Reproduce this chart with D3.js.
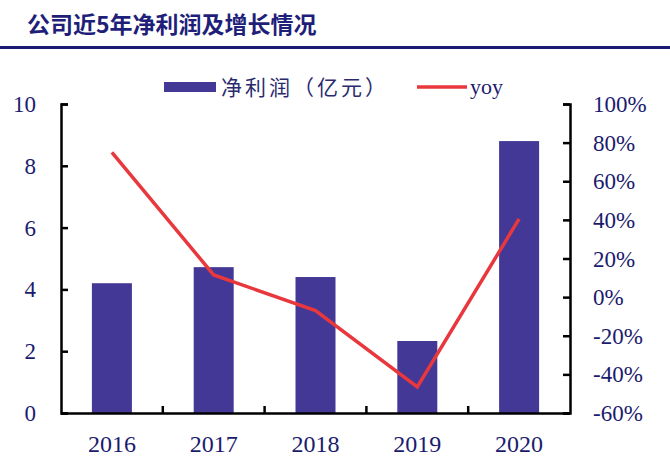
<!DOCTYPE html>
<html><head><meta charset="utf-8">
<script src="https://cdn.jsdelivr.net/npm/d3@7"></script>
<style>body{margin:0;background:#fff;}svg{display:block;}</style>
</head><body><svg id="c" width="670" height="464"></svg>
<script>
const years = ["2016","2017","2018","2019","2020"];
const netProfit = [4.2, 4.72, 4.4, 2.33, 8.8];
const yoy = [0.75, 0.115, -0.07, -0.465, 0.405];
const leftTicks = [0,2,4,6,8,10];
const rightTicks = [-0.6,-0.4,-0.2,0,0.2,0.4,0.6,0.8,1.0];

const svg = d3.select("#c");
const navy = "#1b1b6e", barColor = "#433896", red = "#e8383d";
const L = 61, R = 570, T = 104, B = 413;

svg.append("text").attr("x", 27).attr("y", 33).attr("fill", "#1f1f7a")
  .attr("font-family", "Noto Sans CJK SC").attr("font-weight", "bold").attr("font-size", 23)
  .text("公司近5年净利润及增长情况");
svg.append("rect").attr("x", 0).attr("y", 46).attr("width", 670).attr("height", 3).attr("fill", "#1b1b72");

const xb = d3.scaleBand().domain(years).range([L, R]);
const yL = d3.scaleLinear().domain([0, 10]).range([B, T]);
const yR = d3.scaleLinear().domain([-0.6, 1.0]).range([B, T]);

svg.selectAll("rect.bar").data(years).enter().append("rect").attr("class","bar")
  .attr("x", d => xb(d) + xb.bandwidth()/2 - 20).attr("width", 40)
  .attr("y", (d,i) => yL(netProfit[i])).attr("height", (d,i) => B - yL(netProfit[i]))
  .attr("fill", barColor);

const line = d3.line().x((d,i) => xb(years[i]) + xb.bandwidth()/2).y(d => yR(d));
svg.append("path").datum(yoy).attr("d", line).attr("fill","none").attr("stroke", red).attr("stroke-width", 3.5);

// axes
const gl = svg.append("g").attr("transform", `translate(${L},0)`)
  .call(d3.axisRight(yL).tickValues(leftTicks).tickSize(7).tickFormat(""));
const gr = svg.append("g").attr("transform", `translate(${R},0)`)
  .call(d3.axisLeft(yR).tickValues(rightTicks).tickSize(7).tickFormat(""));
const gx = svg.append("g").attr("transform", `translate(0,${B})`)
  .call(d3.axisTop(xb).tickValues([]).tickSizeOuter(0));
[gl, gr, gx].forEach(g => { g.selectAll("path,line").attr("stroke","#000").attr("stroke-width",2.5); });
gx.select("path").attr("d", `M${L},0.5H${R}`);
years.slice(1).forEach(y => {
  gx.append("line").attr("x1", xb(y)).attr("x2", xb(y)).attr("y1", 0).attr("y2", -7).attr("stroke","#000").attr("stroke-width",2.5);
});

const tf = {fam: "Liberation Serif", size: 23};
const pct = d => Math.round(d * 100) + "%";
svg.selectAll("text.lt").data(leftTicks).enter().append("text").attr("class","lt")
  .attr("x", 36).attr("y", d => yL(d) + 8).attr("text-anchor","end")
  .attr("font-family", tf.fam).attr("font-size", tf.size).attr("fill", navy).text(d => d);
svg.selectAll("text.rt").data(rightTicks).enter().append("text").attr("class","rt")
  .attr("x", 593).attr("y", d => yR(d) + 8)
  .attr("font-family", tf.fam).attr("font-size", tf.size).attr("fill", navy).text(pct);
svg.selectAll("text.xt").data(years).enter().append("text").attr("class","xt")
  .attr("x", d => xb(d) + xb.bandwidth()/2).attr("y", 452).attr("text-anchor","middle")
  .attr("font-family", tf.fam).attr("font-size", 24).attr("fill", navy).text(d => d);

// legend
svg.append("rect").attr("x", 164).attr("y", 82).attr("width", 52).attr("height", 10).attr("fill", barColor);
svg.append("text").attr("x", 221).attr("y", 95).attr("font-family","Noto Sans CJK SC").attr("font-size", 21)
  .attr("letter-spacing", 3).attr("fill", "#2a2a6e").text("净利润（亿元）");
svg.append("line").attr("x1", 417).attr("x2", 467).attr("y1", 87).attr("y2", 87).attr("stroke", red).attr("stroke-width", 3.5);
svg.append("text").attr("x", 470).attr("y", 94).attr("font-family", tf.fam).attr("font-size", 22)
  .attr("fill", navy).text("yoy");
</script></body></html>
